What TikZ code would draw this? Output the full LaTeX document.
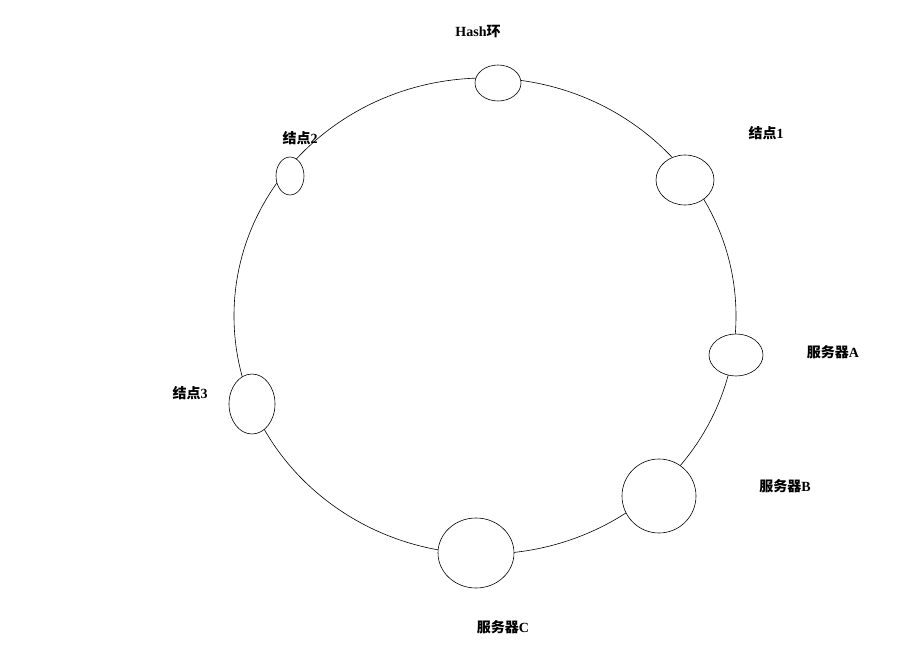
\documentclass[tikz,border=0pt]{standalone}
\usepackage{fontspec}
\setmainfont{Liberation Serif}
\newfontfamily\cjk{Noto Sans CJK SC}
\begin{document}
\begin{tikzpicture}[x=1pt,y=-1pt,
  blob/.style={draw,fill=white,line width=0.6pt},
  lbl/.style={font=\fontsize{14}{16}\selectfont\bfseries}]
\useasboundingbox (0,0) rectangle (922,666);
\draw[line width=0.6pt] (485,316) ellipse [x radius=251, y radius=238];
\draw[blob] (498,83) ellipse [x radius=23, y radius=18];
\draw[blob] (685,180) ellipse [x radius=29, y radius=25];
\draw[blob] (290,176) ellipse [x radius=14, y radius=19];
\draw[blob] (736,355) ellipse [x radius=27, y radius=21];
\draw[blob] (659,496) ellipse [x radius=37, y radius=37];
\draw[blob] (476,553) ellipse [x radius=38, y radius=35];
\draw[blob] (252,404) ellipse [x radius=23, y radius=30];
\node[lbl] (h) at (478,32) {Hash{\cjk 环}};
\node[lbl] (n1) at (766,133) {{\cjk 结点}1};
\node[lbl] (n2) at (300,138) {{\cjk 结点}2};
\node[lbl] (n3) at (190,393) {{\cjk 结点}3};
\node[lbl] (sa) at (833,352) {{\cjk 服务器}A};
\node[lbl] (sb) at (785,486) {{\cjk 服务器}B};
\node[lbl] (sc) at (503,627) {{\cjk 服务器}C};
\end{tikzpicture}
\end{document}
